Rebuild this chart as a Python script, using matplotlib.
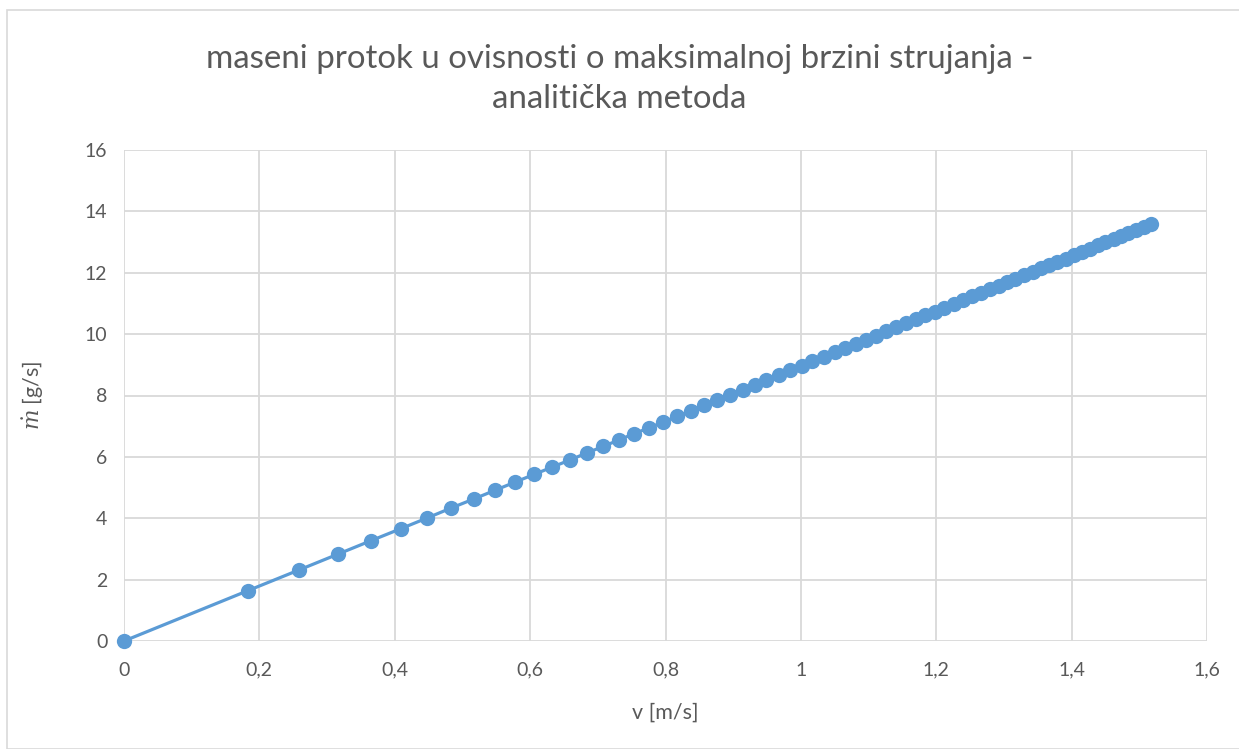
import matplotlib
matplotlib.use("Agg")
import matplotlib.pyplot as plt
from matplotlib.patches import Rectangle
from matplotlib.ticker import FuncFormatter, MultipleLocator

# maximum flow velocity [m/s]
v = [0, 0.183, 0.258, 0.316, 0.365, 0.409, 0.448, 0.483, 0.517, 0.548,
     0.578, 0.606, 0.633, 0.659, 0.684, 0.708, 0.731, 0.753, 0.775, 0.796,
     0.817, 0.837, 0.857, 0.876, 0.895, 0.914, 0.932, 0.949, 0.967, 0.984,
     1.001, 1.017, 1.034, 1.050, 1.065, 1.081, 1.096, 1.111, 1.126, 1.141,
     1.156, 1.170, 1.184, 1.198, 1.212, 1.226, 1.239, 1.253, 1.266, 1.279,
     1.292, 1.305, 1.317, 1.330, 1.343, 1.355, 1.367, 1.379, 1.391, 1.403,
     1.415, 1.427, 1.439, 1.450, 1.462, 1.473, 1.484, 1.495, 1.507, 1.518]

# mass flow rate [g/s]
m_dot = [0, 1.64, 2.31, 2.83, 3.27, 3.66, 4.01, 4.33, 4.63, 4.91,
         5.18, 5.43, 5.67, 5.90, 6.13, 6.34, 6.55, 6.75, 6.94, 7.13,
         7.32, 7.50, 7.68, 7.85, 8.02, 8.19, 8.35, 8.50, 8.66, 8.82,
         8.97, 9.11, 9.26, 9.41, 9.54, 9.69, 9.82, 9.95, 10.09, 10.22,
         10.36, 10.48, 10.61, 10.73, 10.86, 10.98, 11.10, 11.23, 11.34, 11.46,
         11.58, 11.69, 11.80, 11.92, 12.03, 12.14, 12.25, 12.36, 12.46, 12.57,
         12.68, 12.79, 12.89, 12.99, 13.10, 13.20, 13.30, 13.40, 13.50, 13.60]

title = "maseni protok u ovisnosti o maksimalnoj brzini strujanja -\nanalitička metoda"

plt.rcParams['font.family'] = ['Lato', 'DejaVu Sans']
plt.rcParams['mathtext.fontset'] = 'dejavuserif'

text_col = "#595959"
grid_col = "#D9D9D9"
series_col = "#5B9BD5"

fig = plt.figure(figsize=(12.39, 7.49), dpi=100)
fig.patches.append(Rectangle((7 / 1239, 0), 1.0, 1 - 10 / 749, transform=fig.transFigure,
                             fill=False, edgecolor=grid_col, linewidth=1.2))

ax = fig.add_axes([124 / 1239, 1 - 641 / 749, (1207 - 124) / 1239, (641 - 150) / 749])
ax.plot(v, m_dot, color=series_col, linewidth=2.3, marker="o", markersize=11,
        markeredgewidth=0, zorder=3, clip_on=False)

ax.set_xlim(0, 1.6)
ax.set_ylim(0, 16)
ax.xaxis.set_major_locator(MultipleLocator(0.2))
ax.yaxis.set_major_locator(MultipleLocator(2))


def comma_fmt(x, pos):
    s = f"{x:.1f}".rstrip("0").rstrip(".")
    return s.replace(".", ",")


ax.xaxis.set_major_formatter(FuncFormatter(comma_fmt))
ax.yaxis.set_major_formatter(FuncFormatter(comma_fmt))

ax.grid(True, color=grid_col, linewidth=1.3)
ax.set_axisbelow(True)
for s in ax.spines.values():
    s.set_visible(False)
ax.tick_params(length=0, labelsize=14, colors=text_col, pad=15)
ax.tick_params(axis="y", pad=12)

ax.set_xlabel("v [m/s]", fontsize=15.5, color=text_col, labelpad=17)
ax.set_ylabel(r"$\dot{m}$ [g/s]", fontsize=15.5, color=text_col, labelpad=28)

fig.text(0.5, 1 - 79 / 749, title, ha="center", va="center", fontsize=23.8,
         color=text_col, linespacing=1.4)

fig.savefig("out.png", dpi=100)
